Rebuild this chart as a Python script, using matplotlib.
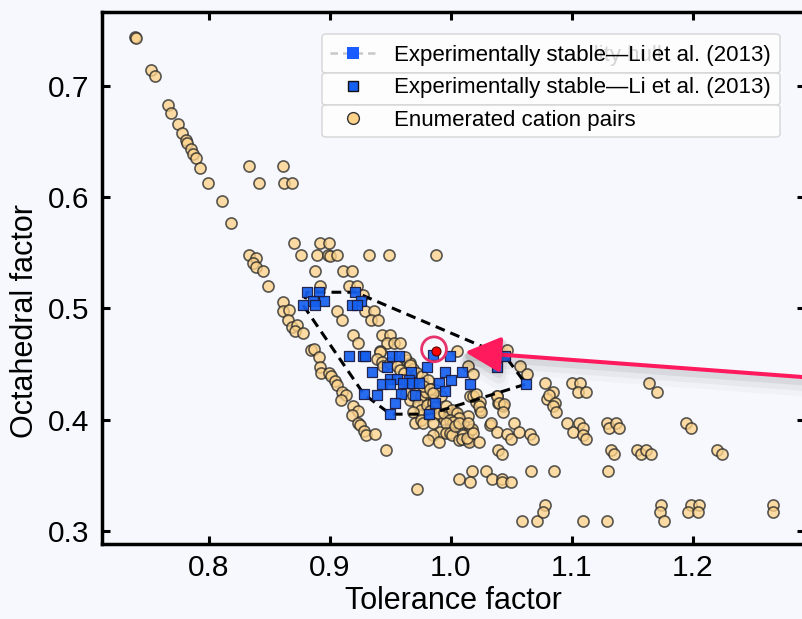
import matplotlib
matplotlib.use("Agg")
import matplotlib.pyplot as plt
from matplotlib.lines import Line2D
from matplotlib.patches import FancyBboxPatch
from matplotlib.ticker import FormatStrFormatter
import matplotlib.patheffects as pe

plt.rcParams['font.family'] = ['Liberation Sans', 'DejaVu Sans']

# ---------------- data ----------------
enum_tol = [
    0.739, 0.740, 0.752, 0.755, 0.766, 0.769, 0.774, 0.778, 0.781, 0.782, 0.785, 0.787, 0.789, 0.793, 0.799, 0.811, 0.818,
    0.833, 0.861, 0.841, 0.862, 0.869,
    0.870, 0.892, 0.899,
    0.833, 0.876, 0.889, 0.898, 0.900, 0.906, 0.932, 0.949, 0.988,
    0.839, 0.836, 0.839, 0.845,
    0.888, 0.911, 0.918,
    0.849, 0.892, 0.916, 0.922,
    0.927,
    0.861, 0.861, 0.866, 0.865, 0.869, 0.873, 0.871, 0.878,
    0.906, 0.910, 0.929, 0.936, 0.934, 0.940,
    0.919, 0.923, 0.943, 0.950, 0.947, 0.953, 0.941,
    0.884, 0.887, 0.891, 0.892, 0.893, 0.899, 0.901, 0.904, 0.906, 0.910, 0.913, 0.909, 0.919, 0.923, 0.918, 0.923,
    0.925, 0.928, 0.930, 0.937, 0.946, 0.972,
    1.005, 1.046, 1.057, 1.063, 1.014, 1.018,
    0.941, 0.939, 0.943, 0.944, 0.950, 0.963, 0.966, 0.969, 0.972, 0.976, 0.977, 0.981, 0.983, 0.985, 0.988, 0.992,
    0.972, 0.973, 0.977, 0.980, 0.983, 0.987, 0.990, 0.994, 0.999, 1.003, 1.006, 1.010, 1.014, 1.016, 0.999, 0.977,
    0.974, 0.955, 0.958, 0.961, 0.961, 0.963, 0.966, 1.016, 1.021, 1.024, 1.032, 1.038, 1.039, 1.043, 0.958, 0.962, 0.966,
    0.969, 0.975, 0.979, 0.973, 0.975, 0.980, 0.985, 0.987, 0.983, 0.982, 0.989, 0.994, 0.996, 1.001, 1.005, 1.007,
    0.999, 1.002, 0.969, 0.970, 0.975, 0.977, 0.985, 0.991, 0.985, 0.981, 0.990, 0.996, 0.996, 0.999, 1.001, 1.003,
    1.007, 1.007, 1.010, 1.009, 1.014, 1.015, 1.013, 1.017, 1.018, 1.014, 1.023, 1.018, 1.021, 1.024, 1.023, 1.025,
    1.038, 1.040, 1.044, 1.043, 0.977, 0.983, 0.985,
    1.078, 1.084, 1.079, 1.081, 1.086, 1.084, 1.087, 1.100, 1.107, 1.105, 1.112, 1.164, 1.170,
    1.096, 1.101, 1.106, 1.109, 1.109, 1.112, 1.129, 1.131, 1.136, 1.139, 1.194, 1.198,
    1.033, 1.052, 1.038, 1.046, 1.050, 1.056, 1.065, 1.068,
    1.039, 1.042, 1.132, 1.135, 1.154, 1.157, 1.161, 1.165, 1.220, 1.224,
    1.007, 1.017, 1.016, 1.029, 1.034, 1.042, 1.042, 1.050, 1.066, 1.085, 1.130,
    1.059, 1.071, 1.078, 1.076, 1.109, 1.129, 1.174, 1.173, 1.176, 1.198, 1.205, 1.196, 1.204, 1.266, 1.266,
]
enum_oct = [
    0.744, 0.743, 0.714, 0.709, 0.683, 0.676, 0.666, 0.658, 0.651, 0.649, 0.643, 0.639, 0.635, 0.626, 0.613, 0.597, 0.577,
    0.628, 0.628, 0.613, 0.613, 0.613,
    0.559, 0.559, 0.559,
    0.548, 0.548, 0.548, 0.548, 0.547, 0.548, 0.548, 0.548, 0.548,
    0.545, 0.541, 0.537, 0.534,
    0.534, 0.534, 0.534,
    0.520, 0.520, 0.520, 0.520,
    0.512,
    0.506, 0.498, 0.499, 0.490, 0.483, 0.485, 0.480, 0.478,
    0.498, 0.490, 0.498, 0.498, 0.490, 0.490,
    0.476, 0.469, 0.476, 0.476, 0.469, 0.469, 0.462,
    0.463, 0.464, 0.456, 0.447, 0.442, 0.442, 0.439, 0.435, 0.431, 0.425, 0.422, 0.418, 0.412, 0.408, 0.404, 0.397,
    0.395, 0.390, 0.386, 0.387, 0.373, 0.338,
    0.462, 0.463, 0.448, 0.441, 0.448, 0.441,
    0.461, 0.455, 0.452, 0.448, 0.451, 0.454, 0.451, 0.446, 0.442, 0.439, 0.433, 0.436, 0.428, 0.422, 0.427, 0.421,
    0.427, 0.421, 0.418, 0.413, 0.409, 0.410, 0.404, 0.401, 0.403, 0.407, 0.401, 0.397, 0.403, 0.391, 0.392, 0.407,
    0.404, 0.448, 0.445, 0.442, 0.436, 0.424, 0.418, 0.421, 0.416, 0.409, 0.395, 0.421, 0.415, 0.412, 0.469, 0.456, 0.449,
    0.422, 0.421, 0.425, 0.414, 0.409, 0.413, 0.415, 0.411, 0.408, 0.404, 0.406, 0.406, 0.412, 0.409, 0.406, 0.402,
    0.400, 0.398, 0.407, 0.397, 0.400, 0.397, 0.397, 0.389, 0.386, 0.382, 0.380, 0.397, 0.388, 0.388, 0.386, 0.394,
    0.397, 0.382, 0.386, 0.383, 0.382, 0.380, 0.384, 0.392, 0.388, 0.397, 0.380, 0.421, 0.423, 0.416, 0.412, 0.407,
    0.421, 0.415, 0.414, 0.407, 0.430, 0.428, 0.424,
    0.433, 0.425, 0.419, 0.422, 0.415, 0.412, 0.407, 0.433, 0.433, 0.425, 0.425, 0.433, 0.425,
    0.397, 0.389, 0.397, 0.393, 0.386, 0.383, 0.397, 0.393, 0.397, 0.393, 0.397, 0.393,
    0.397, 0.397, 0.389, 0.387, 0.383, 0.389, 0.387, 0.383,
    0.373, 0.369, 0.373, 0.369, 0.373, 0.369, 0.373, 0.369, 0.373, 0.369,
    0.347, 0.354, 0.344, 0.354, 0.347, 0.347, 0.344, 0.344, 0.354, 0.354, 0.354,
    0.309, 0.309, 0.323, 0.317, 0.309, 0.309, 0.323, 0.317, 0.309, 0.323, 0.323, 0.317, 0.317, 0.323, 0.317,
]

exp_tol = [
    0.881, 0.891, 0.886, 0.895, 0.878, 0.888, 0.921, 0.926, 0.918, 0.922,
    0.916, 0.927, 0.929, 0.951, 0.957, 0.985, 0.999,
    0.935, 0.947, 0.967, 0.980, 0.995, 1.009, 1.000,
    0.950, 0.955, 0.943, 0.950, 0.965, 0.960, 0.968, 0.974, 0.990, 1.016,
    0.928, 0.939, 0.959, 0.970, 0.995, 0.954, 0.987, 0.950, 0.982,
    1.045, 1.038, 1.062,
]
exp_oct = [
    0.5146, 0.5146, 0.507, 0.507, 0.5027, 0.5027, 0.5146, 0.507, 0.5027, 0.5027,
    0.457, 0.457, 0.457, 0.457, 0.457, 0.458, 0.457,
    0.443, 0.447, 0.443, 0.447, 0.443, 0.443, 0.436,
    0.437, 0.437, 0.432, 0.432, 0.436, 0.433, 0.433, 0.433, 0.433, 0.432,
    0.423, 0.422, 0.423, 0.422, 0.426, 0.415, 0.415, 0.405, 0.405,
    0.457, 0.447, 0.432,
]

highlight_tol, highlight_oct = 0.9876, 0.4621
ring_tol, ring_oct = 0.9860, 0.4633
arrow_tip = (1.0116, 0.4609)
arrow_tail = (1.2980, 0.4378)

x_ticks = [0.8, 0.9, 1.0, 1.1, 1.2]
y_ticks = [0.3, 0.4, 0.5, 0.6, 0.7]
x_label = "Tolerance factor"
y_label = "Octahedral factor"
legend_labels = ["Experimentally stable\u2014Li et al. (2013)",
                 "Experimentally stable\u2014Li et al. (2013)",
                 "Enumerated cation pairs"]
ghost_label = "Experimentally stability hull"

BG = '#f6f8fd'
ORANGE = '#fdd38a'
BLUE = '#1560f0'


def convex_hull(xs, ys):
    pts = sorted(set(zip(xs, ys)))

    def cross(o, a, b):
        return (a[0] - o[0]) * (b[1] - o[1]) - (a[1] - o[1]) * (b[0] - o[0])
    lower, upper = [], []
    for p in pts:
        while len(lower) >= 2 and cross(lower[-2], lower[-1], p) <= 0:
            lower.pop()
        lower.append(p)
    for p in reversed(pts):
        while len(upper) >= 2 and cross(upper[-2], upper[-1], p) <= 0:
            upper.pop()
        upper.append(p)
    hull = lower[:-1] + upper[:-1]
    return hull + [hull[0]]


W, H = 803, 619
fig = plt.figure(figsize=(W / 100, H / 100), dpi=100, facecolor=BG)
ax = fig.add_axes([102 / W, (H - 544) / H, 703 / W, 532 / H], facecolor=BG)

ax.scatter(enum_tol, enum_oct, s=64, c=ORANGE, alpha=0.78, edgecolors='#2b2b2b',
           linewidths=1.2, zorder=2)
hull = convex_hull(exp_tol, exp_oct)
ax.plot([p[0] for p in hull], [p[1] for p in hull], color='black', lw=2.2,
        ls=(0, (3.2, 2.0)), zorder=3)
ax.scatter(exp_tol, exp_oct, s=54, marker='s', c=BLUE, edgecolors='#1a1a40',
           linewidths=0.9, alpha=0.92, zorder=4)
ax.scatter([highlight_tol], [highlight_oct], s=42, c='#ff0000', edgecolors='#550000',
           linewidths=0.8, zorder=5)
ax.scatter([ring_tol], [ring_oct], s=320, facecolors='none', edgecolors='#e6336b',
           linewidths=2.0, zorder=6)

ann = ax.annotate('', xy=arrow_tip, xytext=arrow_tail,
                  arrowprops=dict(arrowstyle='-|>,head_length=1.1,head_width=0.55',
                                  color='#ff1a5e', lw=2.9, mutation_scale=20,
                                  shrinkA=0, shrinkB=0),
                  annotation_clip=False, zorder=7)
ann.arrow_patch.set_path_effects([
    pe.SimpleLineShadow(offset=(0, -3), shadow_color='k', alpha=0.06, linewidth=6),
    pe.SimpleLineShadow(offset=(0, -5), shadow_color='k', alpha=0.04, linewidth=10),
    pe.SimpleLineShadow(offset=(0, -7), shadow_color='k', alpha=0.025, linewidth=14),
    pe.Normal()])

ax.set_xlim(0.7116, 1.2926)
ax.set_ylim(0.2883, 0.7665)
ax.set_xticks(x_ticks)
ax.set_yticks(y_ticks)
ax.xaxis.set_major_formatter(FormatStrFormatter('%.1f'))
ax.yaxis.set_major_formatter(FormatStrFormatter('%.1f'))
ax.tick_params(direction='in', length=5.5, width=2.2, top=True, right=True,
               labelsize=21.5, colors='black')
ax.tick_params(axis='x', pad=7)
ax.tick_params(axis='y', pad=9)
for s in ax.spines.values():
    s.set_linewidth(2.5)
ax.set_xlabel(x_label, fontsize=22, labelpad=3)
ax.set_ylabel(y_label, fontsize=22)
ax.yaxis.set_label_coords(-0.088, 0.42)

# legend frames (three stacked boxes)
for top, bot in [(34, 73), (73, 105), (105, 137)]:
    fig.add_artist(FancyBboxPatch((322 / W, 1 - bot / H), 458 / W, (bot - top) / H,
                                  boxstyle='round,pad=0,rounding_size=0.005',
                                  transform=fig.transFigure, facecolor=(1, 1, 1, 0.85),
                                  edgecolor='#d5d5d5', lw=1.0, zorder=1))

h1 = Line2D([], [], color='#c8c8c8', ls=(0, (3, 2)), lw=1.8, marker='s', ms=8,
            mfc='#1a5cff', mec='#1a5cff', mew=0)
h2 = Line2D([], [], ls='none', marker='s', ms=7.5, mfc=BLUE, mec='#111111', mew=1.0)
h3 = Line2D([], [], ls='none', marker='o', ms=8.5, mfc=ORANGE, mec='#333333', mew=1.0)
leg_kw = dict(loc='upper left', bbox_to_anchor=(330 / W, 1 - 45 / H), frameon=False,
              fontsize=16, handlelength=2.05, handletextpad=0.85, borderpad=0,
              borderaxespad=0, labelspacing=0.51)
ghost = fig.legend([Line2D([], [], alpha=0)], [ghost_label], labelcolor='#d4d4d4', **leg_kw)
ghost.set_zorder(4)
leg = fig.legend([h1, h2, h3], legend_labels, **leg_kw)
leg.set_zorder(5)

fig.savefig('out.png', dpi=100, facecolor=BG)
